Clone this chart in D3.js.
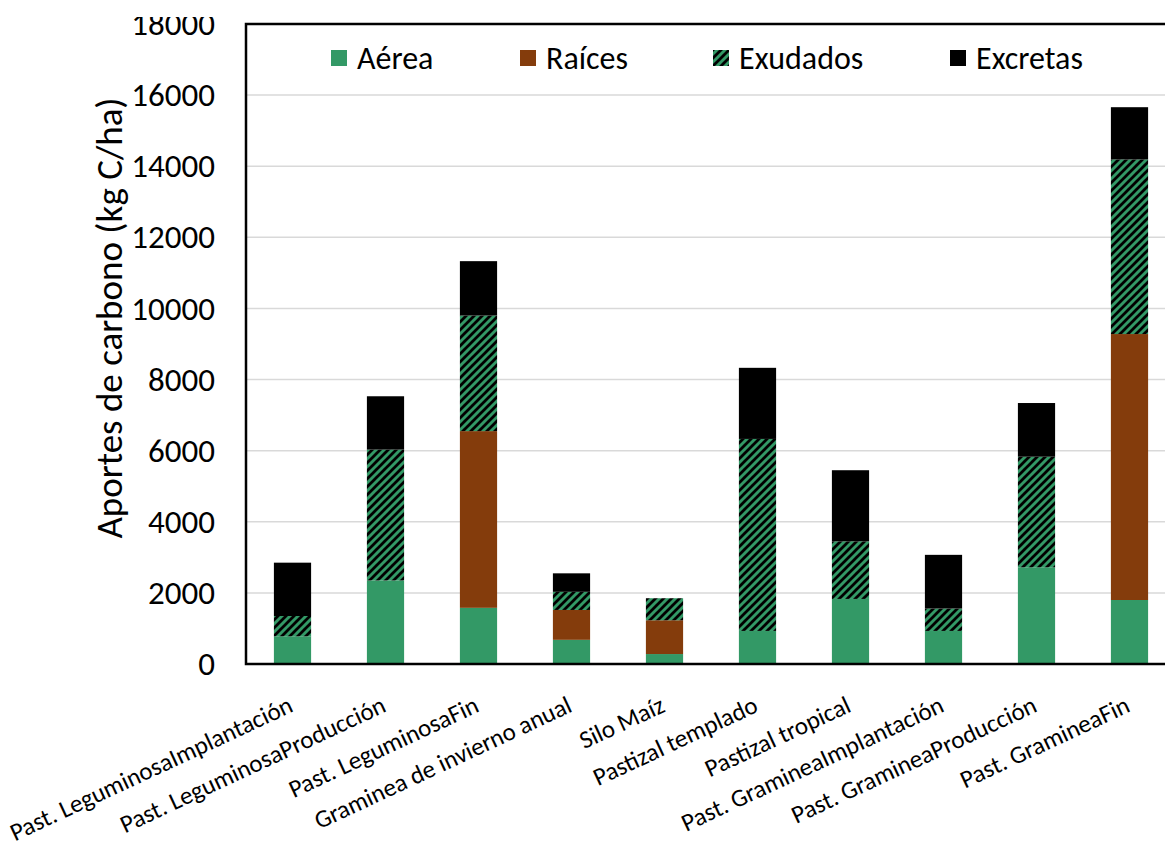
<!DOCTYPE html>
<html>
<head>
<meta charset="utf-8">
<script src="https://cdn.jsdelivr.net/npm/d3@7"></script>
<style>
  body { margin: 0; background: #fff; }
  svg { display: block; }
</style>
</head>
<body>
<div id="chart"></div>
<script>
/* Data */
const categories = [
  'Past. LeguminosaImplantación',
  'Past. LeguminosaProducción',
  'Past. LeguminosaFin',
  'Graminea de invierno anual',
  'Silo Maíz',
  'Pastizal templado',
  'Pastizal tropical',
  'Past. GramineaImplantación',
  'Past. GramineaProducción',
  'Past. GramineaFin'
];
const seriesNames = ['Aérea', 'Raíces', 'Exudados', 'Excretas'];
const aerea    = [780, 2350, 1580, 680, 280, 930, 1830, 930, 2720, 1800];
const raices   = [0, 0, 4970, 840, 950, 0, 0, 0, 0, 7480];
const exudados = [570, 3680, 3250, 510, 620, 5400, 1620, 630, 3110, 4910];
const excretas = [1500, 1500, 1530, 520, 0, 2000, 2000, 1510, 1510, 1470];
const yTicks = [0, 2000, 4000, 6000, 8000, 10000, 12000, 14000, 16000, 18000];

/* Local Constants */
const WIDTH = 1165;
const HEIGHT = 849;
const FONT = "Carlito, Lato, 'Open Sans', sans-serif";
const GREEN = '#339966';
const BROWN = '#843c0c';

const margin = { top: 24, left: 246, bottom: 185 };
const innerWidth = 930;
const innerHeight = HEIGHT - margin.top - margin.bottom;

const svg = d3.select('#chart')
  .append('svg')
  .attr('width', WIDTH)
  .attr('height', HEIGHT)
  .style('font-family', FONT);

// hatch for Exudados
const pattern = svg.append('defs')
  .append('pattern')
  .attr('id', 'hatch')
  .attr('patternUnits', 'userSpaceOnUse')
  .attr('width', 8)
  .attr('height', 8);
pattern.append('rect').attr('width', 8).attr('height', 8).attr('fill', GREEN);
pattern.append('path')
  .attr('d', 'M-2,2 L2,-2 M0,8 L8,0 M6,10 L10,6')
  .attr('stroke', '#000')
  .attr('stroke-width', 2.8);

const fills = [GREEN, BROWN, 'url(#hatch)', '#000'];
const color = d3.scaleOrdinal().domain(seriesNames).range(fills);

const g = svg.append('g').attr('transform', `translate(${margin.left},${margin.top})`);

const x = d3.scaleBand().domain(categories).range([0, innerWidth]).paddingInner(0.6).paddingOuter(0.3);
const y = d3.scaleLinear().domain([0, 18000]).range([innerHeight, 0]);

// gridlines
g.append('g')
  .selectAll('line')
  .data(yTicks.slice(1))
  .enter()
  .append('line')
  .attr('x1', 0)
  .attr('x2', innerWidth)
  .attr('y1', d => y(d))
  .attr('y2', d => y(d))
  .attr('stroke', '#d9d9d9')
  .attr('stroke-width', 1.5);

// stacked bars
const table = categories.map((c, i) => ({
  cat: c,
  'Aérea': aerea[i],
  'Raíces': raices[i],
  'Exudados': exudados[i],
  'Excretas': excretas[i]
}));
const stacked = d3.stack().keys(seriesNames)(table);

g.selectAll('.series')
  .data(stacked)
  .enter()
  .append('g')
  .attr('class', 'series')
  .attr('fill', d => color(d.key))
  .selectAll('rect')
  .data(d => d)
  .enter()
  .append('rect')
  .attr('x', d => x(d.data.cat))
  .attr('width', x.bandwidth())
  .attr('y', d => y(d[1]))
  .attr('height', d => y(d[0]) - y(d[1]));

// frame
g.append('rect')
  .attr('x', 0)
  .attr('y', 0)
  .attr('width', innerWidth)
  .attr('height', innerHeight)
  .attr('fill', 'none')
  .attr('stroke', '#000')
  .attr('stroke-width', 2.5);

// y axis
const yAxis = d3.axisLeft(y).tickValues(yTicks).tickSize(0).tickPadding(31).tickFormat(d3.format('d'));
g.append('g')
  .call(yAxis)
  .attr('font-family', FONT)
  .call(s => s.select('.domain').remove())
  .selectAll('text')
  .style('font-size', '33px')
  .style('fill', '#000');

// the top tick label is cut by the picture edge in the original
svg.append('rect')
  .attr('x', 90)
  .attr('y', 0)
  .attr('width', 150)
  .attr('height', 17)
  .attr('fill', '#fff');

// x axis labels
const xAxis = d3.axisBottom(x).tickSize(0).tickPadding(0);
g.append('g')
  .attr('transform', `translate(0,${innerHeight})`)
  .call(xAxis)
  .attr('font-family', FONT)
  .call(s => s.select('.domain').remove())
  .selectAll('text')
  .attr('text-anchor', 'end')
  .attr('dy', 0)
  .attr('transform', 'translate(2,47) rotate(-25)')
  .style('font-size', '25px')
  .style('fill', '#000');

// y axis title
svg.append('text')
  .attr('transform', `translate(122,318) rotate(-90)`)
  .attr('text-anchor', 'middle')
  .style('font-size', '37px')
  .text('Aportes de carbono (kg C/ha)');

// legend
const legendX = [331, 520, 713, 950];
const legend = svg.append('g')
  .selectAll('g')
  .data(seriesNames)
  .enter()
  .append('g')
  .attr('transform', (d, i) => `translate(${legendX[i]},50)`);
legend.append('rect')
  .attr('width', 16)
  .attr('height', 16)
  .attr('fill', d => color(d));
legend.append('text')
  .attr('x', 26)
  .attr('y', 19)
  .style('font-size', '32px')
  .text(d => d);
</script>
</body>
</html>
